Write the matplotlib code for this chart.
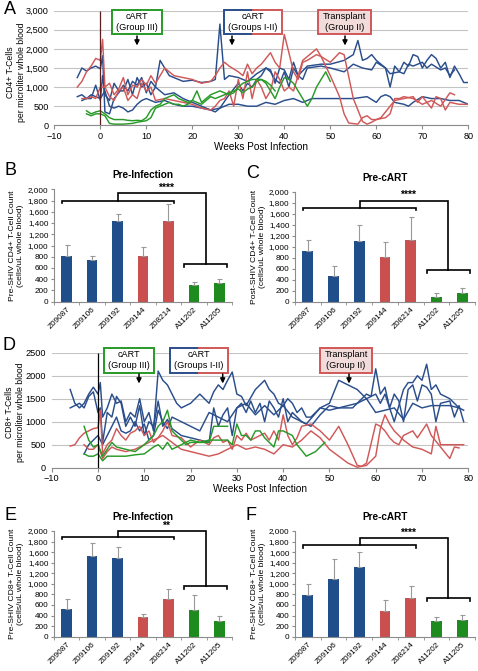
import matplotlib
matplotlib.use('Agg')
import matplotlib.pyplot as plt
import numpy as np
from matplotlib.patches import Rectangle, FancyArrowPatch
from matplotlib.lines import Line2D

plt.rcParams['font.family'] = ['Liberation Sans', 'DejaVu Sans']

# ---------------- data ----------------
# Panel A: CD4+ T-cells (week, cells/uL)
cd4_blue1 = [(-5,1250),(-4,1500),(-3,1420),(-2,1500),(-1,1550),(0,1480),(0.5,1820),(1,350),(2,300),(3,700),(4,850),(5,1050),(6,900),(7,1150),(8,1050),(9,1250),(10,850),(11,1150),(12,1000),(13,1700),(14,1500),(15,1300),(16,1250),(18,1150),(20,1180),(22,1120),(24,1150),(25,1200),(26,2650),(27,1200),(28,1300),(30,1250),(32,1150),(34,1350),(36,1500),(37,1450),(38,1100),(39,1500),(40,1450),(41,1200),(42,1650),(43,1300),(45,1550),(48,1600),(50,1600),(53,1700),(55,1850),(56,2220),(57,1700),(58,1750),(59,1850),(60,1700),(61,1600),(62,1500),(63,1000),(64,1550),(65,1400),(66,1650),(67,1550),(68,1850),(69,1800),(70,1500),(71,1700),(72,1850),(73,1750),(74,1500),(75,1650),(76,1250),(77,1550),(78,1350),(79,1120),(80,1120)]
cd4_blue2 = [(-5,750),(-4,800),(-3,700),(-2,700),(-1,1050),(0,650),(0.5,1300),(1,800),(2,650),(3,1100),(4,900),(5,900),(6,1200),(7,800),(8,1250),(9,1000),(10,1100),(11,800),(12,1000),(14,800),(16,850),(18,700),(20,600),(22,500),(24,400),(25,350),(26,450),(28,800),(30,1100),(31,900),(32,1100),(33,1000),(34,1200),(35,1300),(36,1500),(37,1400),(38,1200),(39,1100),(40,1400),(41,1000),(42,1500),(43,1300),(44,1200),(45,1500),(48,1550),(50,1500),(53,1400),(55,1600),(57,1500),(59,1450),(60,1650),(62,1500),(63,1350),(65,1400),(66,1350),(67,1600),(68,1550),(70,1650),(71,1500),(72,1600),(74,1450),(75,1500),(76,1300),(77,1450)]
cd4_blue3 = [(-4,650),(-3,700),(-2,800),(-1,750),(0,700),(1,900),(2,500),(3,450),(4,500),(5,450),(6,350),(7,400),(8,550),(9,650),(10,700),(12,600),(14,650),(16,550),(18,500),(20,500),(22,450),(24,400),(26,450),(28,550),(30,550),(32,500),(34,500),(36,600),(38,550),(40,650),(42,700),(44,600),(46,700),(50,700),(55,700),(58,750),(60,600),(61,750),(62,800),(63,750),(64,600),(66,550),(67,500),(68,600),(70,750),(72,700),(74,700),(76,650),(78,650),(80,550)]
cd4_red1 = [(-5,1000),(-4,1150),(-3,1400),(-2,1550),(-1,1750),(0,1700),(0.5,2250),(1,1000),(2,1100),(3,800),(4,950),(5,1250),(6,800),(7,1050),(8,1000),(9,1200),(10,1050),(11,1300),(12,1100),(13,1300),(14,1500),(16,1300),(18,1250),(20,1200),(22,1100),(24,1150),(25,1300),(26,1500),(27,1650),(28,1550),(30,1400),(31,1300),(32,1600),(33,1350),(34,1500),(35,1600),(36,1750),(37,1900),(38,1650),(39,1500),(40,2380),(41,1900),(42,1400),(43,1200),(44,1650),(45,1700),(47,1850),(48,1800),(50,1650),(52,1900),(53,1850),(55,700),(57,100),(58,30),(59,80),(60,150),(62,200),(63,300),(64,700),(65,700),(66,750),(68,700),(70,550),(72,650),(74,500),(76,850),(77,800)]
cd4_red2 = [(-4,700),(-3,700),(-2,750),(-1,700),(0,1000),(1,1000),(2,750),(3,650),(4,900),(5,1000),(6,650),(7,800),(8,700),(9,1100),(10,900),(11,1000),(12,650),(14,700),(16,650),(18,600),(20,550),(22,450),(24,400),(25,500),(26,650),(27,700),(28,900),(29,500),(30,1200),(31,700),(32,1400),(33,700),(34,1200),(35,1000),(36,700),(37,900),(38,1400),(39,1200),(40,900),(41,1000),(42,900),(44,1700),(46,1900),(47,2000),(48,1800),(50,1300),(52,750),(53,300),(54,60),(56,30),(57,200),(58,250),(59,150),(60,150),(61,200),(62,350),(63,500),(64,650),(66,700),(68,750),(69,600),(70,750),(71,600),(72,450),(73,750),(74,700),(75,400),(76,600),(78,550),(80,550)]
cd4_green1 = [(-3,380),(-2,300),(-1,350),(0,380),(1,300),(2,200),(3,150),(4,150),(5,150),(6,130),(7,120),(8,130),(9,120),(10,200),(11,400),(12,500),(13,550),(14,700),(15,750),(16,800),(17,700),(18,650),(19,600),(20,650),(21,900),(22,600),(23,700),(24,800),(25,850),(26,900),(27,850),(28,800),(29,850),(30,1000),(31,1100),(32,1150),(33,1200),(34,1200),(35,1200),(36,1100),(37,900),(38,700),(39,1000),(40,1250),(41,1200),(42,1100),(43,900),(44,700),(45,500),(46,700),(47,1000),(48,1200),(49,1400),(50,1150)]
cd4_green2 = [(-3,300),(-2,250),(-1,300),(0,300),(1,250),(2,50),(3,30),(4,30),(5,30),(6,40),(7,50),(8,80),(9,100),(10,120),(11,200),(12,450),(13,500),(14,550),(15,600),(16,550),(17,550),(18,500),(19,550),(20,650),(22,550),(23,650),(24,750),(25,700),(26,750),(27,800),(28,850),(29,900),(30,950),(31,850),(32,950),(33,1000),(34,1150),(35,1200),(36,1150),(37,1050),(38,900)]

# Panel D: CD8+ T-cells (week, cells/uL)
cd8_blue1 = [(-6,1700),(-5,1400),(-4,1300),(-3,1400),(-2,1600),(-1,1750),(0,1600),(0.5,1850),(1,1100),(2,1300),(3,1600),(4,1400),(5,1450),(6,1000),(7,1200),(8,1100),(9,1500),(10,1000),(11,1200),(12,800),(13,2100),(14,1900),(15,1800),(16,1600),(17,1400),(18,1300),(20,1400),(22,1600),(23,1500),(24,1400),(25,1650),(26,1800),(27,1700),(28,1900),(29,2080),(30,1600),(31,1550),(32,1350),(34,1700),(36,1900),(37,1700),(38,1600),(39,1400),(40,1350),(41,1500),(42,1400),(43,1200),(44,1300),(45,1100),(46,1100),(48,1300),(50,1400),(52,1900),(54,1800),(56,1700),(58,1500),(60,1600),(61,1400),(62,1600),(63,1300),(64,1000),(66,1700),(67,1850),(68,1850),(69,2000),(70,1900),(71,2250),(72,1700),(73,1800),(74,1600),(76,1500),(78,1300),(79,1250)]
cd8_blue2 = [(-6,1300),(-5,1350),(-4,1400),(-3,1300),(-2,1550),(-1,1650),(0,1200),(0.5,1300),(1,550),(2,1200),(3,1100),(4,1550),(5,1400),(6,900),(7,1100),(8,900),(9,1350),(10,700),(11,1000),(12,900),(13,1450),(14,900),(15,1050),(16,850),(18,700),(20,650),(22,600),(24,550),(25,1300),(26,900),(27,1150),(28,1300),(29,700),(30,1300),(31,1400),(32,1200),(33,1450),(34,1200),(35,1400),(36,1000),(37,1450),(38,1300),(39,1100),(40,1500),(41,1000),(42,1200),(43,1100),(44,1000),(45,950),(48,1300),(50,1250),(52,1300),(55,1300),(57,1500),(58,1600),(59,1550),(60,2150),(61,1600),(62,1750),(63,1300),(64,1600),(65,1450),(66,1000),(67,1700),(68,1800),(69,1450),(70,1800),(71,1750),(72,1600),(73,1000),(74,1400),(76,1450),(77,1100),(78,1350),(79,1000)]
cd8_blue3 = [(-3,300),(-2,500),(-1,600),(0,700),(1,500),(2,700),(3,900),(4,1100),(5,800),(6,750),(7,800),(8,1000),(9,800),(10,950),(11,600),(12,700),(13,1250),(14,1000),(15,850),(16,1100),(18,1000),(20,900),(22,800),(24,1200),(26,1100),(28,1000),(30,1300),(32,1400),(34,1150),(36,1350),(38,1150),(40,1350),(42,1100),(44,1000),(46,900),(48,1150),(50,1350),(52,1300),(54,1350),(56,1400),(58,1500),(60,1200),(62,1250),(64,1300),(66,1050),(68,1400),(70,1300),(72,1350),(74,1350),(76,1350),(78,1300)]
cd8_red1 = [(-6,470),(-5,500),(-4,650),(-3,750),(-2,800),(-1,850),(0,870),(0.5,1250),(1,300),(2,500),(3,600),(4,850),(5,700),(6,600),(7,750),(8,800),(9,900),(10,700),(11,800),(12,550),(13,650),(14,800),(15,1000),(16,700),(18,650),(20,450),(22,600),(24,500),(25,650),(26,700),(27,550),(28,600),(29,400),(30,700),(31,600),(32,750),(33,600),(34,650),(36,750),(37,600),(38,800),(39,600),(40,1150),(41,700),(42,500),(43,650),(44,900),(46,950),(48,800),(50,600),(52,900),(54,500),(56,50),(57,30),(58,100),(60,950),(61,900),(62,800),(63,650),(64,550),(65,500),(66,700),(68,800),(69,650),(71,950),(72,700),(74,450),(76,200),(77,450),(78,430)]
cd8_red2 = [(-3,500),(-2,400),(-1,400),(0,500),(1,200),(2,350),(3,450),(4,400),(6,350),(8,400),(10,500),(12,600),(14,700),(16,550),(18,400),(20,350),(22,300),(24,250),(26,300),(28,400),(30,500),(32,400),(34,450),(36,400),(38,300),(40,500),(42,450),(44,600),(46,800),(48,650),(50,400),(52,250),(54,100),(56,10),(58,50),(60,250),(61,850),(62,1150),(63,950),(64,800),(66,600),(68,450),(70,400),(72,300),(73,900),(74,500),(76,500),(78,500),(79,500)]
cd8_green1 = [(-3,900),(-2,600),(-1,450),(0,500),(1,250),(2,400),(3,550),(4,450),(6,400),(8,350),(10,500),(11,600),(12,700),(13,900),(14,1000),(15,1250),(16,800),(17,700),(18,600),(19,500),(20,550),(22,550),(24,550),(25,900),(26,900),(27,900),(28,900)]
cd8_green2 = [(-3,300),(-2,250),(-1,250),(0,300),(1,150),(2,250),(3,250),(4,250),(6,250),(8,280),(10,300),(12,450),(13,500),(14,400),(15,550),(16,400),(18,500),(20,600),(22,550),(24,600),(26,600),(28,600),(29,500),(30,950),(31,700),(32,700),(33,600),(34,800),(35,800),(36,650),(38,450),(39,800),(40,800),(41,750),(42,700),(43,500),(45,250),(47,350),(49,550)]

# Bar panels
animals = ['Z09087', 'Z09106', 'Z09192', 'Z09144', 'Z08214', 'A11202', 'A11205']
groups = ['blue', 'blue', 'blue', 'red', 'red', 'green', 'green']
cd4_pre_inf = [810, 745, 1440, 805, 1430, 300, 325]
cd4_pre_inf_sd = [200, 75, 115, 160, 310, 50, 80]
cd4_pre_cart = [920, 460, 1100, 810, 1125, 80, 165]
cd4_pre_cart_sd = [210, 195, 300, 275, 415, 85, 80]
cd8_pre_inf = [515, 1525, 1495, 365, 720, 500, 295]
cd8_pre_inf_sd = [190, 250, 205, 60, 190, 280, 105]
cd8_pre_cart = [785, 1085, 1310, 485, 725, 290, 325]
cd8_pre_cart_sd = [220, 380, 300, 200, 230, 75, 95]

# ---------------- style ----------------
BLUE = '#2A4E8C'
RED = '#D15858'
GREEN = '#289A28'
bar_col = {'blue': '#1F4E8A', 'red': '#C9504F', 'green': '#1E8B1E'}
AXC = '#8C8C8C'

W, H = 478, 671
fig = plt.figure(figsize=(W / 100, H / 100), dpi=100)


def fx(x):
    return x / W


def fy(y):
    return 1 - y / H


def add_ax(l, t, r, b):
    return fig.add_axes([fx(l), fy(b), (r - l) / W, (b - t) / H])


def line_panel(ax, series, ymax, comma, vcolor):
    for pts, c in series:
        arr = np.array(pts, dtype=float)
        ax.plot(arr[:, 0], arr[:, 1], color=c, lw=1.05, zorder=2)
    ax.set_xlim(-10, 80)
    ax.set_ylim(0, ymax)
    ax.set_xticks(np.arange(-10, 81, 10))
    ax.set_yticks(np.arange(0, ymax + 1, 500))
    if comma:
        ax.yaxis.set_major_formatter(matplotlib.ticker.StrMethodFormatter('{x:,.0f}'))
    ax.grid(axis='y', color='#C4C4C4', lw=0.8)
    ax.set_axisbelow(True)
    for s in ['top', 'right', 'left']:
        ax.spines[s].set_visible(False)
    ax.spines['bottom'].set_color(AXC)
    ax.tick_params(axis='y', length=0, labelsize=6.6, pad=4)
    ax.tick_params(axis='x', length=3, color=AXC, labelsize=6.6, pad=1.5)
    ax.vlines(0, 0, ymax, color=vcolor, lw=0.9, zorder=3)
    ax.set_xlabel('Weeks Post Infection', fontsize=7.2, labelpad=1)


def bar_panel(ax, vals, sds, lev):
    x = np.arange(len(animals))
    ax.bar(x, vals, width=0.42, color=[bar_col[g] for g in groups], zorder=2)
    ax.errorbar(x, vals, yerr=[np.zeros(len(x)), sds], fmt='none', ecolor='#999999',
                elinewidth=0.8, capsize=1.8, capthick=0.8, zorder=3)
    ax.set_xlim(-0.5, 6.5)
    ax.set_ylim(0, 2000)
    ax.set_yticks(np.arange(0, 2001, 200))
    ax.yaxis.set_major_formatter(matplotlib.ticker.StrMethodFormatter('{x:,.0f}'))
    ax.set_xticks(x)
    ax.set_xticklabels(animals, rotation=45, ha='right', rotation_mode='anchor', fontsize=5.9)
    ax.set_xticks(np.arange(-0.5, 7, 1), minor=True)
    ax.tick_params(axis='x', which='major', length=0, pad=3)
    ax.tick_params(axis='x', which='minor', length=2.5, color=AXC)
    ax.tick_params(axis='y', length=2.5, color=AXC, labelsize=5.9, pad=1.5)
    for s in ['top', 'right']:
        ax.spines[s].set_visible(False)
    for s in ['left', 'bottom']:
        ax.spines[s].set_color(AXC)
    # significance bracket
    ly, ty, ry, stars = lev
    d = 50
    lx0, lx1, rx0, rx1 = -0.2, 4.22, 4.62, 6.3
    lm, rm = (lx0 + lx1) / 2, (rx0 + rx1) / 2
    kw = dict(color='black', lw=1.2, clip_on=False, zorder=4, solid_joinstyle='miter')
    ax.plot([lx0, lx0, lx1, lx1], [ly - d, ly, ly, ly - d], **kw)
    ax.plot([rx0, rx0, rx1, rx1], [ry - d, ry, ry, ry - d], **kw)
    ax.plot([lm, lm, rm, rm], [ly, ty, ty, ry], **kw)
    ax.text(3.9, ty + 10, stars, ha='center', va='bottom', fontsize=7.5, fontweight='bold')


def note_box(x0, y0, x1, y1, text, cl, cr, face='white'):
    fig.add_artist(Rectangle((fx(x0), fy(y1)), (x1 - x0) / W, (y1 - y0) / H,
                             transform=fig.transFigure, facecolor=face, edgecolor='none', zorder=5))
    xm = (x0 + x1) / 2
    for xs, ys, c in [([xm, x0, x0, xm], [y0, y0, y1, y1], cl),
                      ([xm, x1, x1, xm], [y0, y0, y1, y1], cr)]:
        fig.add_artist(Line2D([fx(v) for v in xs], [fy(v) for v in ys], color=c, lw=1.4,
                              transform=fig.transFigure, zorder=6, solid_joinstyle='miter'))
    fig.text(fx(xm), fy((y0 + y1) / 2), text, ha='center', va='center', fontsize=6.6,
             linespacing=1.25, zorder=7)


def arrow(x, y0, y1):
    fig.add_artist(FancyArrowPatch((fx(x), fy(y0)), (fx(x), fy(y1)), transform=fig.transFigure,
                                   arrowstyle='-|>', mutation_scale=7, color='black', lw=1.1,
                                   shrinkA=0, shrinkB=0, zorder=6))


# ---------------- panel A ----------------
axA = add_ax(54.3, 10.7, 468.3, 125.3)
line_panel(axA, [(cd4_blue1, BLUE), (cd4_blue2, BLUE), (cd4_blue3, BLUE),
                 (cd4_red1, RED), (cd4_red2, RED), (cd4_green1, GREEN), (cd4_green2, GREEN)],
           3000, True, '#5A2020')
note_box(112, 9.5, 162, 34, 'cART\n(Group III)', GREEN, GREEN)
note_box(224, 9.5, 282, 34, 'cART\n(Groups I-II)', BLUE, RED)
note_box(318, 9.5, 371, 34, 'Transplant\n(Group II)', RED, RED, '#F2DCDB')
for ax_x in (137, 232, 345):
    arrow(ax_x, 36, 45.5)
fig.text(fx(16), fy(72), 'CD4+ T-Cells\nper microliter whole blood', rotation=90,
         ha='center', va='center', fontsize=6.2, linespacing=1.2)

# ---------------- panel D ----------------
axD = add_ax(51.7, 352.7, 468.3, 467.7)
line_panel(axD, [(cd8_blue1, BLUE), (cd8_blue2, BLUE), (cd8_blue3, BLUE),
                 (cd8_red1, RED), (cd8_red2, RED), (cd8_green1, GREEN), (cd8_green2, GREEN)],
           2500, False, 'black')
note_box(104, 347.5, 154, 372.5, 'cART\n(Group III)', GREEN, GREEN)
note_box(170, 347.5, 228, 372.5, 'cART\n(Groups I-II)', BLUE, RED)
note_box(320, 347.5, 372, 372.5, 'Transplant\n(Group II)', RED, RED, '#F2DCDB')
for ax_x in (139, 222.7, 349):
    arrow(ax_x, 374, 383.5)
fig.text(fx(15), fy(412), 'CD8+ T-Cells\nper microliter whole blood', rotation=90,
         ha='center', va='center', fontsize=6.2, linespacing=1.2)

# ---------------- bar panels ----------------
bar_specs = [
    ((54, 189.3, 232, 301.7), cd4_pre_inf, cd4_pre_inf_sd, (1800, 1930, 670, '****'),
     'Pre-Infection', 'Pre-SHIV CD4+ T-Cell Count\n(cells/uL whole blood)', 175, 17),
    ((295, 191.7, 475, 301.7), cd4_pre_cart, cd4_pre_cart_sd, (1710, 1836, 576, '****'),
     'Pre-cART', 'Post-SHIV CD4+ T-Cell Count\n(cells/uL whole blood)', 178, 258),
    ((54, 531, 232, 636.7), cd8_pre_inf, cd8_pre_inf_sd, (1893, 2000, 959, '**'),
     'Pre-Infection', 'Pre-SHIV CD8+ T-Cell Count\n(cells/uL whole blood)', 516.5, 17),
    ((295, 531, 475, 636.7), cd8_pre_cart, cd8_pre_cart_sd, (1734, 1861, 727, '****'),
     'Pre-cART', 'Pre-SHIV CD8+ T-Cell Count\n(cells/uL whole blood)', 517, 258),
]
for box, vals, sds, lev, title, ylab, ty, yx in bar_specs:
    ax = add_ax(*box)
    bar_panel(ax, vals, sds, lev)
    cx = (box[0] + box[2]) / 2
    fig.text(fx(cx), fy(ty), title, ha='center', va='center', fontsize=7.2, fontweight='bold')
    fig.text(fx(yx), fy((box[1] + box[3]) / 2), ylab, rotation=90, ha='center', va='center',
             fontsize=6.1, linespacing=1.2)

# panel letters
for lab, x, y in [('A', 4, 1), ('B', 4, 162), ('C', 246, 165), ('D', 3, 337), ('E', 4, 507), ('F', 246, 507)]:
    fig.text(fx(x), fy(y), lab, ha='left', va='top', fontsize=13)

fig.savefig('out.png', dpi=100)
